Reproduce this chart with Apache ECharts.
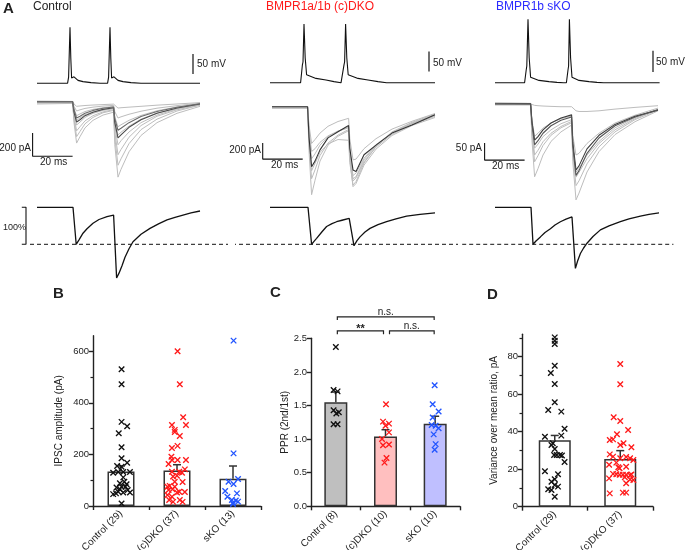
<!DOCTYPE html>
<html><head><meta charset="utf-8">
<script src="https://cdn.jsdelivr.net/npm/echarts@6/dist/echarts.min.js"></script>
<style>html,body{margin:0;padding:0;background:#fff}#c{width:685px;height:550px}</style>
</head><body><div id="c"></div>
<script>
const FONT = 'Liberation Sans, Arial, Helvetica, sans-serif';

// ---------- Panel A : time base (ms) shared by IPSC sweeps ----------
const T = [0, 17.8, 18.5, 19.8, 21.5, 24, 28, 33, 38.3, 38.9, 40.5, 42, 46, 52, 60, 70, 81.5];

// action potentials [ms, mV]
const apControl = [[0,-83],[15.3,-83],[15.8,-68],[16.1,-66],[16.5,57],[16.9,-20],[17.3,-70],[17.8,-73],[18.5,-67],[19.2,-72],[20.5,-76],[23,-79],[27,-81.5],[31.5,-83],[35.3,-83],[35.8,-68],[36.1,-66],[36.5,57],[36.9,-20],[37.3,-70],[37.8,-73],[38.5,-67],[39.2,-72],[40.5,-76],[43,-79],[47,-81.5],[52,-83],[81.5,-83]];
const apDKO = [[-1,-82],[14.3,-82],[15.2,-37],[15.5,-30],[16,65],[16.6,-20],[17.3,-62],[17.7,-67],[22,-71],[27,-75],[31,-79],[34.5,-82],[34.8,-82],[36,-37],[36.3,-30],[36.8,65],[37.4,-20],[38.1,-62],[38.5,-67],[43,-71],[48,-75],[53,-79],[57.3,-82],[81.5,-82]];
const apSKO = [[0,-82],[14.8,-82],[15.6,-50],[15.9,-40],[16.5,77],[17.1,-20],[17.8,-68],[18.2,-73],[22,-76],[27,-79],[31,-81],[34.3,-82],[35.7,-82],[36.5,-50],[36.8,-40],[37.2,77],[37.8,-20],[38.5,-68],[38.8,-73],[42,-76],[47,-79],[51,-81],[54.3,-82],[82.3,-82]];

// IPSC sweeps (pA at times T)
const ipscControlGray = [
  [0,0,-180,-355,-300,-225,-160,-115,-90,-370,-647,-580,-430,-290,-180,-100,-40],
  [5,2,-150,-300,-255,-190,-135,-95,-75,-310,-545,-490,-360,-240,-150,-80,-30],
  [-20,-15,-130,-250,-215,-165,-120,-88,-68,-260,-455,-410,-305,-205,-125,-70,-28],
  [0,0,-100,-200,-175,-135,-100,-75,-60,-215,-370,-335,-260,-180,-115,-62,-25],
  [-12,-10,-80,-160,-140,-112,-88,-68,-55,-170,-285,-262,-210,-150,-98,-58,-22],
  [0,0,-60,-120,-105,-85,-66,-52,-42,-130,-215,-198,-160,-118,-78,-45,-18],
  [-5,-5,-40,-80,-70,-58,-47,-38,-32,-86,-140,-130,-108,-82,-56,-34,-14],
  [0,0,-20,-40,-37,-33,-29,-25,-21,-38,-55,-52,-47,-40,-30,-20,-8]
];
const ipscControlDark = [
  [0,0,-90,-175,-155,-120,-90,-66,-52,-180,-310,-285,-220,-155,-100,-55,-20],
  [0,0,-70,-140,-125,-100,-75,-57,-46,-145,-245,-228,-180,-128,-84,-48,-18]
];
const ipscDKOGray = [
  [0,0,-550,-1100,-920,-680,-480,-370,-300,-650,-1000,-960,-730,-530,-360,-235,-135],
  [-20,-20,-450,-900,-790,-610,-455,-355,-285,-600,-930,-890,-690,-505,-345,-225,-120],
  [0,0,-330,-650,-590,-480,-375,-305,-255,-560,-860,-830,-645,-475,-325,-212,-110],
  [-10,-10,-230,-460,-410,-330,-245,-185,-145,-400,-665,-655,-525,-400,-280,-182,-85],
  [0,0,-280,-560,-525,-445,-365,-305,-265,-580,-900,-875,-665,-485,-325,-205,-100],
  [-15,-15,-400,-800,-710,-570,-465,-410,-420,-700,-980,-935,-705,-495,-315,-195,-92]
];
const ipscDKODark = [
  [0,0,-380,-750,-680,-540,-390,-312,-235,-520,-790,-810,-600,-480,-330,-230,-100]
];
const ipscSKOGray = [
  [0,0,-2,-4,-5,-6,-7,-8,-8,-12,-20,-22,-22,-20,-15,-10,-5],
  [0,0,-107,-214,-190,-150,-110,-82,-62,-170,-282,-262,-200,-140,-90,-52,-20],
  [-3,-3,-85,-170,-152,-122,-92,-70,-55,-148,-240,-226,-176,-126,-82,-46,-18],
  [0,0,-65,-130,-118,-96,-76,-58,-46,-123,-200,-190,-150,-110,-70,-40,-15],
  [2,2,-48,-95,-86,-71,-56,-43,-36,-93,-150,-145,-116,-86,-56,-33,-12],
  [0,0,-75,-150,-136,-111,-86,-66,-51,-133,-215,-201,-161,-116,-76,-43,-16]
];
const ipscSKODark = [
  [0,0,-53,-106,-96,-76,-56,-41,-32,-113,-194,-182,-132,-92,-60,-36,-18],
  [2,1,-60,-120,-108,-86,-64,-48,-38,-125,-210,-196,-145,-100,-64,-38,-17]
];

// normalised average traces [ms, %]
const normControl = [[0,100],[18,100],[19.6,0],[21,12],[23,30],[25,42],[28,57],[31,67],[35,75],[38.3,79],[39.8,-91],[41,-78],[42.5,-58],[44,-35],[46,-12],[48,7],[52,27],[56.5,43],[61,56],[65,66],[69,73],[73,79],[77,85],[81.5,90]];
const normDKO = [[-1,100],[18,100],[19.8,0],[21,8],[22.3,16],[25,34],[27.3,48],[30,56],[32.3,61],[35,65],[38.6,70],[41,-4],[42.5,10],[44,20],[46.5,33],[49,43],[53,53],[57.3,61],[62,69],[67.3,76],[74,81],[81.5,85]];
const normSKO = [[0,100],[18,100],[19,0],[20.5,9],[22.7,20],[25,32],[27.7,42],[30,52],[32.7,61],[35.5,68],[38.5,74],[40.2,-65],[41.3,-45],[42.7,-25],[44.3,-10],[46,3],[49,21],[52.7,39],[57,50],[62.7,61],[67,69],[72.7,76],[77,81],[82,85]];

// ---------- Panel B ----------
const catsB = ['Control (29)', '(c)DKO (37)', 'sKO (13)'];
const meanB = [134, 138, 106];
const errTopB = [155, 160, 155];
const ptsBControl = [530,472,326,309,282,228,185,168,155,152,129,132,132,132,111,88,84,72,75,75,46,55,52,52,10,65,94,49,62];
const jitBControl = [0.01,0.01,0.01,0.11,-0.04,0.01,0.01,0.11,-0.07,0.01,-0.14,-0.05,0.04,0.16,0.04,-0.02,0.10,-0.08,0.01,0.08,-0.14,-0.05,0.04,0.16,0.01,-0.02,0.06,-0.09,0.12];
const ptsBDKO = [600,472,344,314,314,295,287,271,225,233,191,178,178,178,163,133,133,142,117,129,114,93,78,75,62,65,55,54,43,36,52,23,23,16,16,75,94];
const jitBDKO = [0.01,0.05,0.11,-0.09,0.16,-0.04,-0.04,0.05,-0.09,0.01,-0.10,-0.09,0.01,0.16,-0.15,-0.09,0.04,0.14,0,0.09,-0.07,0.10,-0.13,-0.04,-0.15,-0.08,0.04,0.14,-0.17,-0.09,0,-0.14,0.05,0.10,-0.07,-0.17,-0.04];
const ptsBSKO = [641,204,94,85,105,58,49,36,23,21,13,8,17];
const jitBSKO = [0.01,0.01,-0.08,0.01,0.09,-0.14,0.07,-0.10,-0.02,0.05,0,0,0.09];
const ticksB = [0, 200, 400, 600];
const minorB = [100, 300, 500];

// ---------- Panel C ----------
const catsC = ['Control (8)', '(c)DKO (10)', 'sKO (10)'];
const meanC = [1.55, 1.04, 1.23];
const errTopC = [1.70, 1.14, 1.34];
const ptsCControl = [2.37,1.73,1.71,1.43,1.38,1.40,1.22,1.22];
const jitCControl = [0,-0.045,0.035,-0.045,0.01,0.06,-0.045,0.035];
const ptsCDKO = [1.52,1.26,1.23,1.20,1.10,1.00,0.91,0.92,0.72,0.65];
const jitCDKO = [0.01,-0.05,0.07,0,0.07,-0.07,-0.05,0.07,0.02,-0.02];
const ptsCSKO = [1.80,1.52,1.41,1.32,1.21,1.20,1.16,1.07,0.925,0.84];
const jitCSKO = [-0.01,-0.05,0.07,-0.05,-0.07,0.01,0.07,-0.03,0.01,-0.01];
const bracketsC = [[0, 2, 2.82, 'n.s.'], [0, 1, 2.61, '**'], [1, 2, 2.61, 'n.s.']];

// ---------- Panel D ----------
const catsD = ['Control (29)', '(c)DKO (37)'];
const meanD = [35.4, 25.5];
const errTopD = [38, 29.9];
const ptsDControl = [90.3,88.5,86.8,75.2,71.3,65.4,55.7,51.6,50.7,41.6,37.3,37.9,32.9,33.8,30.8,27.6,27.6,27.6,27.3,23.8,18.9,17.3,13.3,14.6,10.7,9.3,8.9,11.6,5.3];
const jitDControl = [0,0,0,0,-0.06,0,0,-0.10,0.10,0.15,-0.15,0.10,-0.05,-0.03,0,-0.01,0.03,0.08,0.11,0.15,-0.15,0.05,-0.05,0,0.05,-0.10,-0.05,0,0];
const ptsDDKO = [76.1,65.3,47.7,45.7,40.9,38.6,35.6,35.9,33.8,32.9,31.7,27.9,26.7,25.8,26.5,25.8,24.9,22.4,23.5,21.3,21.0,17.5,17.3,17.0,17.0,17.0,16.8,17.2,15.1,20.5,15.7,12.5,14.2,14.5,7.1,7.5,7.5];
const jitDDKO = [0,0,-0.10,0,0.12,-0.05,-0.16,-0.11,0.05,0,0.17,-0.16,-0.11,0,0.09,0.15,0.20,-0.17,-0.06,0.09,-0.03,-0.11,-0.06,-0.01,0.04,0.09,0.15,0.17,-0.17,-0.01,0.07,0.09,0.20,0.15,-0.16,0.04,0.09];
const ticksD = [0, 20, 40, 60, 80];
const minorD = [10, 30, 50, 70, 90];

// ================= build option =================
const INK = '#222';
const RED = '#ff1a1a', BLUE = '#2255ff';
const XSYM = 'path://M0,0L10,10M10,0L0,10';
const option = { animation: false, backgroundColor: '#ffffff', textStyle: { fontFamily: FONT },
  grid: [], xAxis: [], yAxis: [], series: [], graphic: [] };
function addGrid(box) { option.grid.push(Object.assign({ outerBoundsMode: 'none', containLabel: false }, box)); return option.grid.length - 1; }
function addX(o) { option.xAxis.push(o); return option.xAxis.length - 1; }
function addY(o) { option.yAxis.push(o); return option.yAxis.length - 1; }
function hidden(g, xr, yr) {
  return [addX({ type: 'value', gridIndex: g, min: xr[0], max: xr[1], show: false, position: 'bottom' }),
          addY({ type: 'value', gridIndex: g, min: yr[0], max: yr[1], show: false, position: 'left' })];
}
function line(ax, data, color, width, type, z) {
  option.series.push({ type: 'line', xAxisIndex: ax[0], yAxisIndex: ax[1], data: data, symbol: 'none', showSymbol: false,
    clip: false, silent: true, z: z || 2, lineStyle: { color: color, width: width, type: type || 'solid' } });
}
function sweep(values) { return T.map((t, i) => [t, values[i]]); }

// ---------- Panel A ----------
const XR = [-18, 98];
const colsA = [
  { left: 1, ap: apControl, apBar: [78, -60, -10],
    ipscR: [-700, 100], ipscTop: 90, ipscH: 93.3, gray: ipscControlGray, dark: ipscControlDark, darkColor: ['#4a4a4a', '#6a6a6a'],
    ipscBar: [-2.2, -268, 200, 20], norm: normControl, normBar: true, dash: [-3.5, 95.5] },
  { left: 236, ap: apDKO, apBar: [78.5, -54, -4],
    ipscR: [-1200, 100], ipscTop: 98.7, ipscH: 104, gray: ipscDKOGray, dark: ipscDKODark, darkColor: ['#333'],
    ipscBar: [-4.65, -455, 200, 20], norm: normDKO, normBar: false, dash: [-20, 93] },
  { left: 459, ap: apSKO, apBar: [79, -55, -2],
    ipscR: [-300, 30], ipscTop: 93.8, ipscH: 112.2, gray: ipscSKOGray, dark: ipscSKODark, darkColor: ['#3c3c3c', '#555'],
    ipscBar: [-5.2, -115, 50, 20], norm: normSKO, normBar: false, dash: [-16.4, 89.2] }
];
colsA.forEach(c => {
  const W = 2 * (XR[1] - XR[0]);
  const gA = addGrid({ left: c.left, top: 10, width: W, height: 80 });
  const axA = hidden(gA, XR, [-100, 100]);
  line(axA, c.ap, '#111', 1.1);
  line(axA, [[c.apBar[0], c.apBar[1]], [c.apBar[0], c.apBar[2]]], '#111', 1.2);
  const gI = addGrid({ left: c.left, top: c.ipscTop, width: W, height: c.ipscH });
  const axI = hidden(gI, XR, c.ipscR);
  c.gray.forEach(v => line(axI, sweep(v), '#bdbdbd', 1, 'solid', 2));
  c.dark.forEach((v, k) => line(axI, sweep(v), c.darkColor[k], 1.1, 'solid', 3));
  const b = c.ipscBar;
  line(axI, [[b[0], b[1]], [b[0], b[1] - b[2]], [b[0] + b[3], b[1] - b[2]]], '#111', 1.1);
  const gN = addGrid({ left: c.left, top: 203.6, width: W, height: 77.7 });
  const axN = hidden(gN, XR, [-100, 110]);
  line(axN, [[c.dash[0], 0], [c.dash[1], 0]], '#111', 1, [4, 3]);
  line(axN, c.norm, '#111', 1.3, 'solid', 3);
  if (c.normBar) line(axN, [[-7.6, 100], [-5.5, 100], [-5.5, 0], [-7.6, 0]], '#111', 1.1);
});

// ---------- bar panels ----------
function barPanel(cfg) {
  const g = addGrid(cfg.box);
  const axisStyle = { onZero: false, lineStyle: { color: INK, width: 1.4 } };
  const xc = addX({ type: 'category', gridIndex: g, data: cfg.cats, position: 'bottom',
    axisLine: axisStyle, axisTick: { show: true, length: 4, alignWithLabel: false, interval: 0, lineStyle: { color: INK, width: 1.4 } },
    axisLabel: { rotate: 45, fontSize: 10, color: INK, margin: 6, interval: 0, fontFamily: FONT } });
  const xv = addX({ type: 'value', gridIndex: g, min: -0.5, max: cfg.cats.length - 0.5, show: false, position: 'bottom',
    axisLine: { onZero: false } });
  const yAxisMain = { type: 'value', gridIndex: g, min: 0, max: cfg.yMax, position: 'left',
    name: cfg.yName, nameLocation: 'middle', nameGap: cfg.nameGap, nameTextStyle: { fontSize: 10, color: INK, fontFamily: FONT },
    axisLine: { show: true, onZero: false, lineStyle: { color: INK, width: 1.4 } }, splitLine: { show: false },
    axisTick: { show: true, length: 4, lineStyle: { color: INK, width: 1.4 } },
    axisLabel: { fontSize: 9.5, color: INK, margin: 4, fontFamily: FONT } };
  if (cfg.ticks) { yAxisMain.axisTick.customValues = cfg.ticks; yAxisMain.axisLabel.customValues = cfg.ticks; }
  if (cfg.interval) { yAxisMain.interval = cfg.interval; }
  if (cfg.fmt) yAxisMain.axisLabel.formatter = cfg.fmt;
  const y = addY(yAxisMain);
  if (cfg.minor) {
    addY({ type: 'value', gridIndex: g, min: 0, max: cfg.yMax, position: 'left', axisLine: { show: false, onZero: false },
      axisLabel: { show: false }, splitLine: { show: false },
      axisTick: { show: true, customValues: cfg.minor, length: 2.5, lineStyle: { color: INK, width: 1.2 } } });
  }
  option.series.push({ type: 'bar', xAxisIndex: xc, yAxisIndex: y, barWidth: cfg.barWidth, silent: true, z: 2,
    data: cfg.means.map((v, i) => ({ value: v, itemStyle: { color: cfg.fills[i] } })),
    itemStyle: { borderColor: '#333', borderWidth: 1.5 } });
  option.series.push({ type: 'custom', xAxisIndex: xv, yAxisIndex: y, silent: true, z: 3,
    data: cfg.means.map((m, i) => [i, m, cfg.errTop[i]]),
    renderItem: (params, api) => {
      const p0 = api.coord([api.value(0), api.value(1)]);
      const p1 = api.coord([api.value(0), api.value(2)]);
      const st = { stroke: '#333', lineWidth: 1.5 };
      return { type: 'group', children: [
        { type: 'line', shape: { x1: p0[0], y1: p0[1], x2: p1[0], y2: p1[1] }, style: st },
        { type: 'line', shape: { x1: p1[0] - 4, y1: p1[1], x2: p1[0] + 4, y2: p1[1] }, style: st } ] };
    } });
  cfg.pts.forEach((vals, gi) => {
    option.series.push({ type: 'scatter', xAxisIndex: xv, yAxisIndex: y, silent: true, z: 4,
      data: vals.map((v, i) => [gi + cfg.jit[gi][i], v]),
      symbol: XSYM, symbolSize: 5.5, symbolKeepAspect: true,
      itemStyle: { color: 'transparent', borderColor: cfg.colors[gi], borderWidth: 1.35, opacity: 1 } });
  });
  return { g, xv, y };
}

barPanel({ box: { left: 93, top: 335.7, width: 168, height: 170.3 }, cats: catsB, yMax: 660,
  yName: 'IPSC amplitude (pA)', nameGap: 29, ticks: ticksB, minor: minorB, barWidth: 27,
  means: meanB, errTop: errTopB, fills: ['#ffffff', '#ffffff', '#ffffff'],
  pts: [ptsBControl, ptsBDKO, ptsBSKO], jit: [jitBControl, jitBDKO, jitBSKO], colors: ['#111', RED, BLUE] });

const pc = barPanel({ box: { left: 311, top: 338.3, width: 149, height: 168 }, cats: catsC, yMax: 2.5, interval: 0.5,
  fmt: v => v.toFixed(1), yName: 'PPR (2nd/1st)', nameGap: 21, barWidth: 23,
  means: meanC, errTop: errTopC, fills: ['#bfbfbf', '#ffbfbf', '#bfbfff'],
  pts: [ptsCControl, ptsCDKO, ptsCSKO], jit: [jitCControl, jitCDKO, jitCSKO], colors: ['#111', RED, BLUE] });

option.series.push({ type: 'custom', xAxisIndex: pc.xv, yAxisIndex: pc.y, silent: true, z: 5, clip: false,
  data: bracketsC.map(b => [b[0], b[1], b[2]]),
  renderItem: (params, api) => {
    const a = api.value(0), b = api.value(1), yv = api.value(2);
    const lab = bracketsC[params.dataIndex][3];
    const p1 = api.coord([a, yv]), p2 = api.coord([b, yv]);
    const x1 = p1[0] + (a === 1 ? 4 : 1.5), x2 = p2[0] - (b === 1 ? 2 : 1), py = p1[1];
    const isStar = lab === '**';
    return { type: 'group', children: [
      { type: 'polyline', shape: { points: [[x1, py + 3.3], [x1, py], [x2, py], [x2, py + 3.3]] },
        style: { stroke: INK, lineWidth: 1.2, fill: null } },
      { type: 'text', style: { text: lab, x: (x1 + x2) / 2, y: isStar ? py + 4 : py,
        textAlign: 'center', textVerticalAlign: 'bottom', align: 'center', verticalAlign: 'bottom',
        fontSize: isStar ? 11 : 10, fontWeight: isStar ? 'bold' : 'normal', fontFamily: FONT, fill: INK } } ] };
  } });

barPanel({ box: { left: 522, top: 334.2, width: 131, height: 172.5 }, cats: catsD, yMax: 92,
  yName: 'Variance over mean ratio, pA', nameGap: 23, ticks: ticksD, minor: minorD, barWidth: 32,
  means: meanD, errTop: errTopD, fills: ['#ffffff', '#ffffff'],
  pts: [ptsDControl, ptsDDKO], jit: [jitDControl, jitDDKO], colors: ['#111', RED] });

// ---------- texts ----------
function txt(text, x, y, size, opts) {
  opts = opts || {};
  option.graphic.push({ type: 'text', silent: true, z: 10, style: { text: text, x: x, y: y,
    fontSize: size, fontFamily: FONT, fontWeight: opts.bold ? 'bold' : 'normal', fill: opts.color || INK,
    textAlign: opts.align || 'left', align: opts.align || 'left', textVerticalAlign: 'middle', verticalAlign: 'middle' } });
}
txt('A', 3, 8.5, 15, { bold: true });
txt('Control', 33, 7, 12);
txt('BMPR1a/1b (c)DKO', 266, 7, 12, { color: RED });
txt('BMPR1b sKO', 496, 7, 12, { color: '#2b2bff' });
txt('50 mV', 197, 64, 10);
txt('50 mV', 433, 63, 10);
txt('50 mV', 656, 62, 10);
txt('200 pA', 31, 148, 10, { align: 'right' });
txt('200 pA', 261, 150, 10, { align: 'right' });
txt('50 pA', 482, 148, 10, { align: 'right' });
txt('20 ms', 40, 162, 10);
txt('20 ms', 271, 165, 10);
txt('20 ms', 492, 166, 10);
txt('100%', 3, 228, 9);
txt('B', 53, 294, 15, { bold: true });
txt('C', 270, 293, 15, { bold: true });
txt('D', 487, 294.5, 15, { bold: true });

const chart = echarts.init(document.getElementById('c'), null, { renderer: 'canvas' });
chart.setOption(option);
</script></body></html>
